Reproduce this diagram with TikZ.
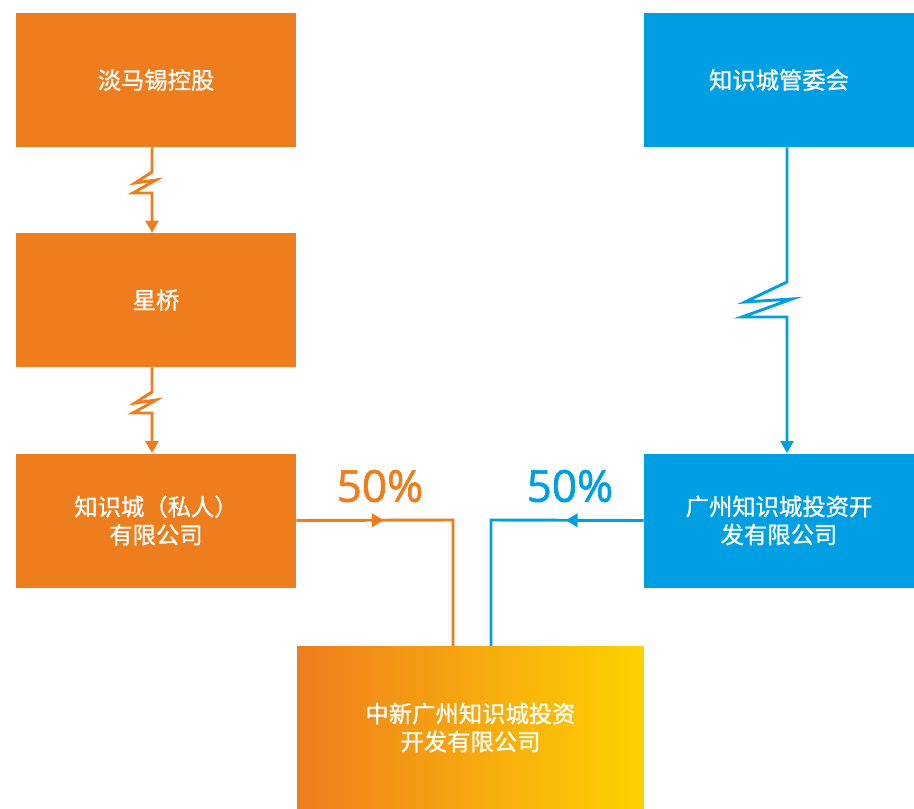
\documentclass[tikz,border=0pt]{standalone}
\usepackage{fontspec}
\newfontfamily\cjk[FakeBold=1]{Noto Sans CJK SC}
\newfontfamily\pctfont[FakeBold=1.5]{Open Sans}
\usetikzlibrary{arrows.meta,decorations.markings}
\definecolor{zorange}{RGB}{238,125,30}
\definecolor{zblue}{RGB}{0,159,227}
\definecolor{zpale}{RGB}{243,172,80}
\definecolor{zyellow}{RGB}{254,210,0}
\begin{document}
\begin{tikzpicture}[x=0.75pt,y=-0.75pt,
  box/.style={minimum width=210pt, minimum height=100.5pt, inner sep=0pt, text=white, align=center, font=\cjk\fontsize{17.5}{21}\selectfont},
  obox/.style={box, fill=zorange},
  bbox/.style={box, fill=zblue, minimum width=202.5pt},
  oline/.style={draw=zorange, line width=2.2pt},
  bline/.style={draw=zblue, line width=2.2pt},
  tip/.style={-{Triangle[width=9.5pt,length=9pt]}},
  midtip/.style={postaction={decorate}, decoration={markings, mark=at position #1 with {\arrow{Triangle[width=10pt,length=9pt]}}}},
  pct/.style={font=\pctfont\fontsize{33}{33}\selectfont}]
  \useasboundingbox (0,0) rectangle (914,809);
  % left column
  \node[obox] (temasek) at (156,80) {淡马锡控股};
  \node[obox] (xingqiao) at (156,300) {星桥};
  \node[obox] (zsc) at (156,520.5) {知识城（私人）\\有限公司};
  % right column
  \node[bbox] (guanwei) at (779,80) {知识城管委会};
  \node[bbox] (gkc) at (779,520.5) {广州知识城投资开\\发有限公司};
  % joint venture
  \node[box, minimum width=260pt, minimum height=122pt, left color=zorange, middle color=zpale, right color=zyellow] (joint) at (470.5,727.5) {中新广州知识城投资\\开发有限公司};
  % zigzag links
  \coordinate (z1) at (152,172);
  \coordinate (z2) at (152,392);
  \coordinate (z3) at (787,282);
  \draw[oline, tip] (temasek.south -| z1) -- (z1) -- ++(-17,11) -- ++(21,-3) -- ++(-23,13) -- ++(19,0) -- (xingqiao.north -| z1);
  \draw[oline, tip] (xingqiao.south -| z2) -- (z2) -- ++(-17,11) -- ++(21,-3) -- ++(-23,13) -- ++(19,0) -- (zsc.north -| z2);
  \draw[bline, tip] (guanwei.south -| z3) -- (z3) -- ++(-42,20) -- ++(47,-3) -- ++(-50,18) -- ++(45,0) -- (gkc.north -| z3);
  % shares
  \coordinate (ojoin) at (453,520);
  \coordinate (bjoin) at (491,520);
  \draw[oline, midtip=0.31] (zsc.east) -- (ojoin) -- (ojoin |- joint.north);
  \draw[bline, midtip=0.28] (gkc.west) -- (bjoin) -- (bjoin |- joint.north);
  \node[pct, text=zorange] (opct) at (380,486) {50\%};
  \node[pct, text=zblue] (bpct) at (570,486) {50\%};
\end{tikzpicture}
\end{document}
